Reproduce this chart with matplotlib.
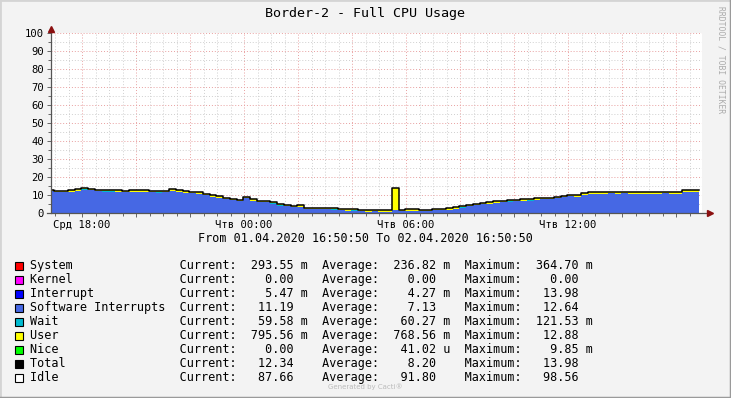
"""
Cacti / RRDtool style stacked CPU usage graph for Border-2 over 24 hours.
"""
import numpy as np
import pandas as pd
import matplotlib
matplotlib.use('Agg')
import matplotlib.pyplot as plt
import matplotlib.dates as mdates
from matplotlib.patches import Rectangle
from matplotlib.lines import Line2D

# total cpu usage (%), 15 min steps from 01.04.2020 16:50:50
total = [13.0, 12.2, 12.3, 12.8, 13.3, 14.0, 13.6, 13.0, 12.8, 12.9,
         12.6, 12.3, 12.6, 12.8, 12.6, 12.3, 12.2, 12.4, 13.3, 12.6,
         12.0, 11.7, 11.4, 10.6, 9.8, 9.2, 8.5, 8.0, 7.4, 9.0,
         7.6, 6.9, 6.7, 6.0, 5.0, 4.4, 4.0, 4.2, 3.0, 2.9,
         2.8, 2.8, 2.6, 2.3, 2.0, 2.0, 1.7, 1.5, 1.5, 1.5,
         1.5, 13.7, 1.8, 2.0, 2.0, 1.7, 1.7, 2.2, 2.5, 2.6,
         3.2, 3.8, 4.6, 5.2, 5.8, 6.0, 6.6, 6.8, 7.2, 7.4,
         7.6, 7.8, 8.2, 8.5, 8.6, 9.1, 9.6, 10.2, 9.8, 11.0,
         11.6, 11.4, 11.4, 11.8, 11.6, 11.8, 11.5, 11.7, 11.6, 11.5,
         11.5, 11.9, 11.5, 11.7, 12.6, 12.6, 12.6]
user = [0.8, 0.7, 0.8, 0.9, 0.8, 0.9, 0.8, 0.7, 0.8, 0.9,
        0.8, 0.7, 0.8, 0.9, 0.8, 0.7, 0.8, 0.8, 0.9, 0.8,
        0.7, 0.8, 0.8, 0.7, 0.8, 0.8, 0.7, 0.8, 0.7, 0.8,
        0.7, 0.8, 0.7, 0.7, 0.8, 0.7, 0.8, 0.7, 0.7, 0.6,
        0.7, 0.7, 0.6, 0.7, 0.7, 0.6, 0.7, 0.7, 0.6, 0.7,
        0.7, 12.2, 0.6, 0.7, 0.7, 0.6, 0.7, 0.7, 0.8, 0.7,
        0.8, 0.7, 0.8, 0.8, 0.7, 0.8, 0.9, 0.8, 0.8, 0.9,
        0.8, 0.8, 0.9, 0.8, 0.8, 0.9, 0.8, 0.8, 0.9, 0.8,
        0.8, 0.9, 0.8, 0.8, 0.9, 0.8, 0.8, 0.9, 0.8, 0.8,
        0.9, 0.8, 0.8, 0.9, 0.8, 0.8, 0.8]
system = 0.24
interrupt = 0.004
wait = 0.06

names = ['System', 'Kernel', 'Interrupt', 'Software Interrupts', 'Wait',
         'User', 'Nice', 'Total', 'Idle']
colors = ['#FF0000', '#FF00FF', '#0000FF', '#4668E4', '#00BBD0',
          '#FFFF00', '#00FF00', '#000000', '#FFFFFF']
cur = [('293.55', 'm'), ('0.00', ''), ('5.47', 'm'), ('11.19', ''), ('59.58', 'm'),
       ('795.56', 'm'), ('0.00', ''), ('12.34', ''), ('87.66', '')]
avg = [('236.82', 'm'), ('0.00', ''), ('4.27', 'm'), ('7.13', ''), ('60.27', 'm'),
       ('768.56', 'm'), ('41.02', 'u'), ('8.20', ''), ('91.80', '')]
mx = [('364.70', 'm'), ('0.00', ''), ('13.98', ''), ('12.64', ''), ('121.53', 'm'),
      ('12.88', ''), ('9.85', 'm'), ('13.98', ''), ('98.56', '')]
tick_labels = {18: 'Срд 18:00', 0: 'Чтв 00:00', 6: 'Чтв 06:00', 12: 'Чтв 12:00'}

W, H = 731, 398
mono = 'DejaVu Sans Mono'

t = pd.date_range('2020-04-01 16:50:50', periods=len(total), freq='15min')
tot = np.array(total)
usr = np.array(user)
soft = tot - usr - system - interrupt - wait

fig = plt.figure(figsize=(W / 100, H / 100), dpi=100)
fig.patch.set_facecolor('#F3F3F3')
ax = fig.add_axes([51 / W, 1 - 213 / H, 651 / W, 180 / H])
ax.set_facecolor('white')

# stacked layers, bottom to top
base = np.zeros(len(tot))
for val, c in [(system, colors[0]), (interrupt, colors[2]), (soft, colors[3]),
               (wait, colors[4]), (usr, colors[5])]:
    top = base + val
    ax.fill_between(t, base, top, step='mid', color=c, lw=0, zorder=2)
    base = top
ax.step(t, tot, where='mid', color='black', lw=1.1, zorder=3)

t0 = t[0]
ax.set_xlim(t0, t0 + pd.Timedelta(hours=24 * 651 / 648))
ax.set_ylim(0, 100)

# grid
ax.xaxis.set_major_locator(mdates.HourLocator(byhour=range(0, 24, 2)))
ax.xaxis.set_minor_locator(mdates.MinuteLocator(byminute=[0, 30]))
ax.xaxis.set_major_formatter(plt.FuncFormatter(
    lambda v, p: tick_labels.get(mdates.num2date(v).hour, '')))
ax.set_yticks(np.arange(0, 101, 10))
ax.set_yticks(np.arange(0, 101, 5), minor=True)
ax.grid(which='minor', color='#CFCFCF', ls=(0, (1, 2)), lw=0.7, zorder=1)
ax.grid(which='major', color='#E8A0A0', ls=(0, (1, 2)), lw=0.7, zorder=1)
ax.tick_params(which='both', direction='out', color='#666666', width=0.7)
ax.tick_params(which='major', length=3)
ax.tick_params(which='minor', length=2)
ax.tick_params(axis='x', which='major', pad=2)
ax.tick_params(axis='y', which='major', pad=2)
for lab in ax.get_xticklabels() + ax.get_yticklabels():
    lab.set_fontfamily(mono)
    lab.set_fontsize(7.6)
for s in ax.spines.values():
    s.set_visible(False)

# axis lines with dark red arrow heads
ax.add_line(Line2D([0, 0], [0, 1.02], transform=ax.transAxes, color='#555555',
                   lw=0.9, clip_on=False, zorder=4))
ax.add_line(Line2D([-0.006, 1.01], [0, 0], transform=ax.transAxes, color='#555555',
                   lw=0.9, clip_on=False, zorder=4))
ax.plot([0], [1.02], marker='^', ms=4, color='#8B1010', transform=ax.transAxes,
        clip_on=False, zorder=5)
ax.plot([1.012], [0], marker='>', ms=4, color='#8B1010', transform=ax.transAxes,
        clip_on=False, zorder=5)

fig.text(365 / W, 1 - 14 / H, 'Border-2 - Full CPU Usage', ha='center', va='center',
         family=mono, fontsize=9.6)
fig.text(365 / W, 1 - 238 / H, 'From 01.04.2020 16:50:50 To 02.04.2020 16:50:50',
         ha='center', va='center', family=mono, fontsize=8.5)
fig.text(721 / W, 1 - 60 / H, 'RRDTOOL / TOBI OETIKER', rotation=270, ha='center',
         va='center', family=mono, fontsize=5.8, color='#ABABAB')
fig.text(365 / W, 1 - 387 / H, 'Generated by Cacti®', ha='center', va='center',
         fontsize=5, color='#BBBBBB')

# legend rows
for i, n in enumerate(names):
    y = 266 + 14 * i
    fig.patches.append(Rectangle((15 / W, 1 - (y + 4) / H), 8 / W, 8 / H,
                                 transform=fig.transFigure, fc=colors[i], ec='black', lw=0.8))
    row = (f'{n:<21}Current:{cur[i][0]:>8} {cur[i][1]:1}  '
           f'Average:{avg[i][0]:>8} {avg[i][1]:1}  '
           f'Maximum:{mx[i][0]:>8} {mx[i][1]:1}')
    fig.text(30 / W, 1 - y / H, row, ha='left', va='center', family=mono, fontsize=8.5)

# 3d frame around the image
fig.add_artist(Line2D([0, 1], [1, 1], transform=fig.transFigure, color='#D4D4D4', lw=2))
fig.add_artist(Line2D([0, 0], [0, 1], transform=fig.transFigure, color='#D4D4D4', lw=2))
fig.add_artist(Line2D([0, 1], [0, 0], transform=fig.transFigure, color='#9A9A9A', lw=2.5))
fig.add_artist(Line2D([1, 1], [0, 1], transform=fig.transFigure, color='#9A9A9A', lw=2.5))

fig.savefig('out.png', dpi=100, facecolor=fig.get_facecolor())
